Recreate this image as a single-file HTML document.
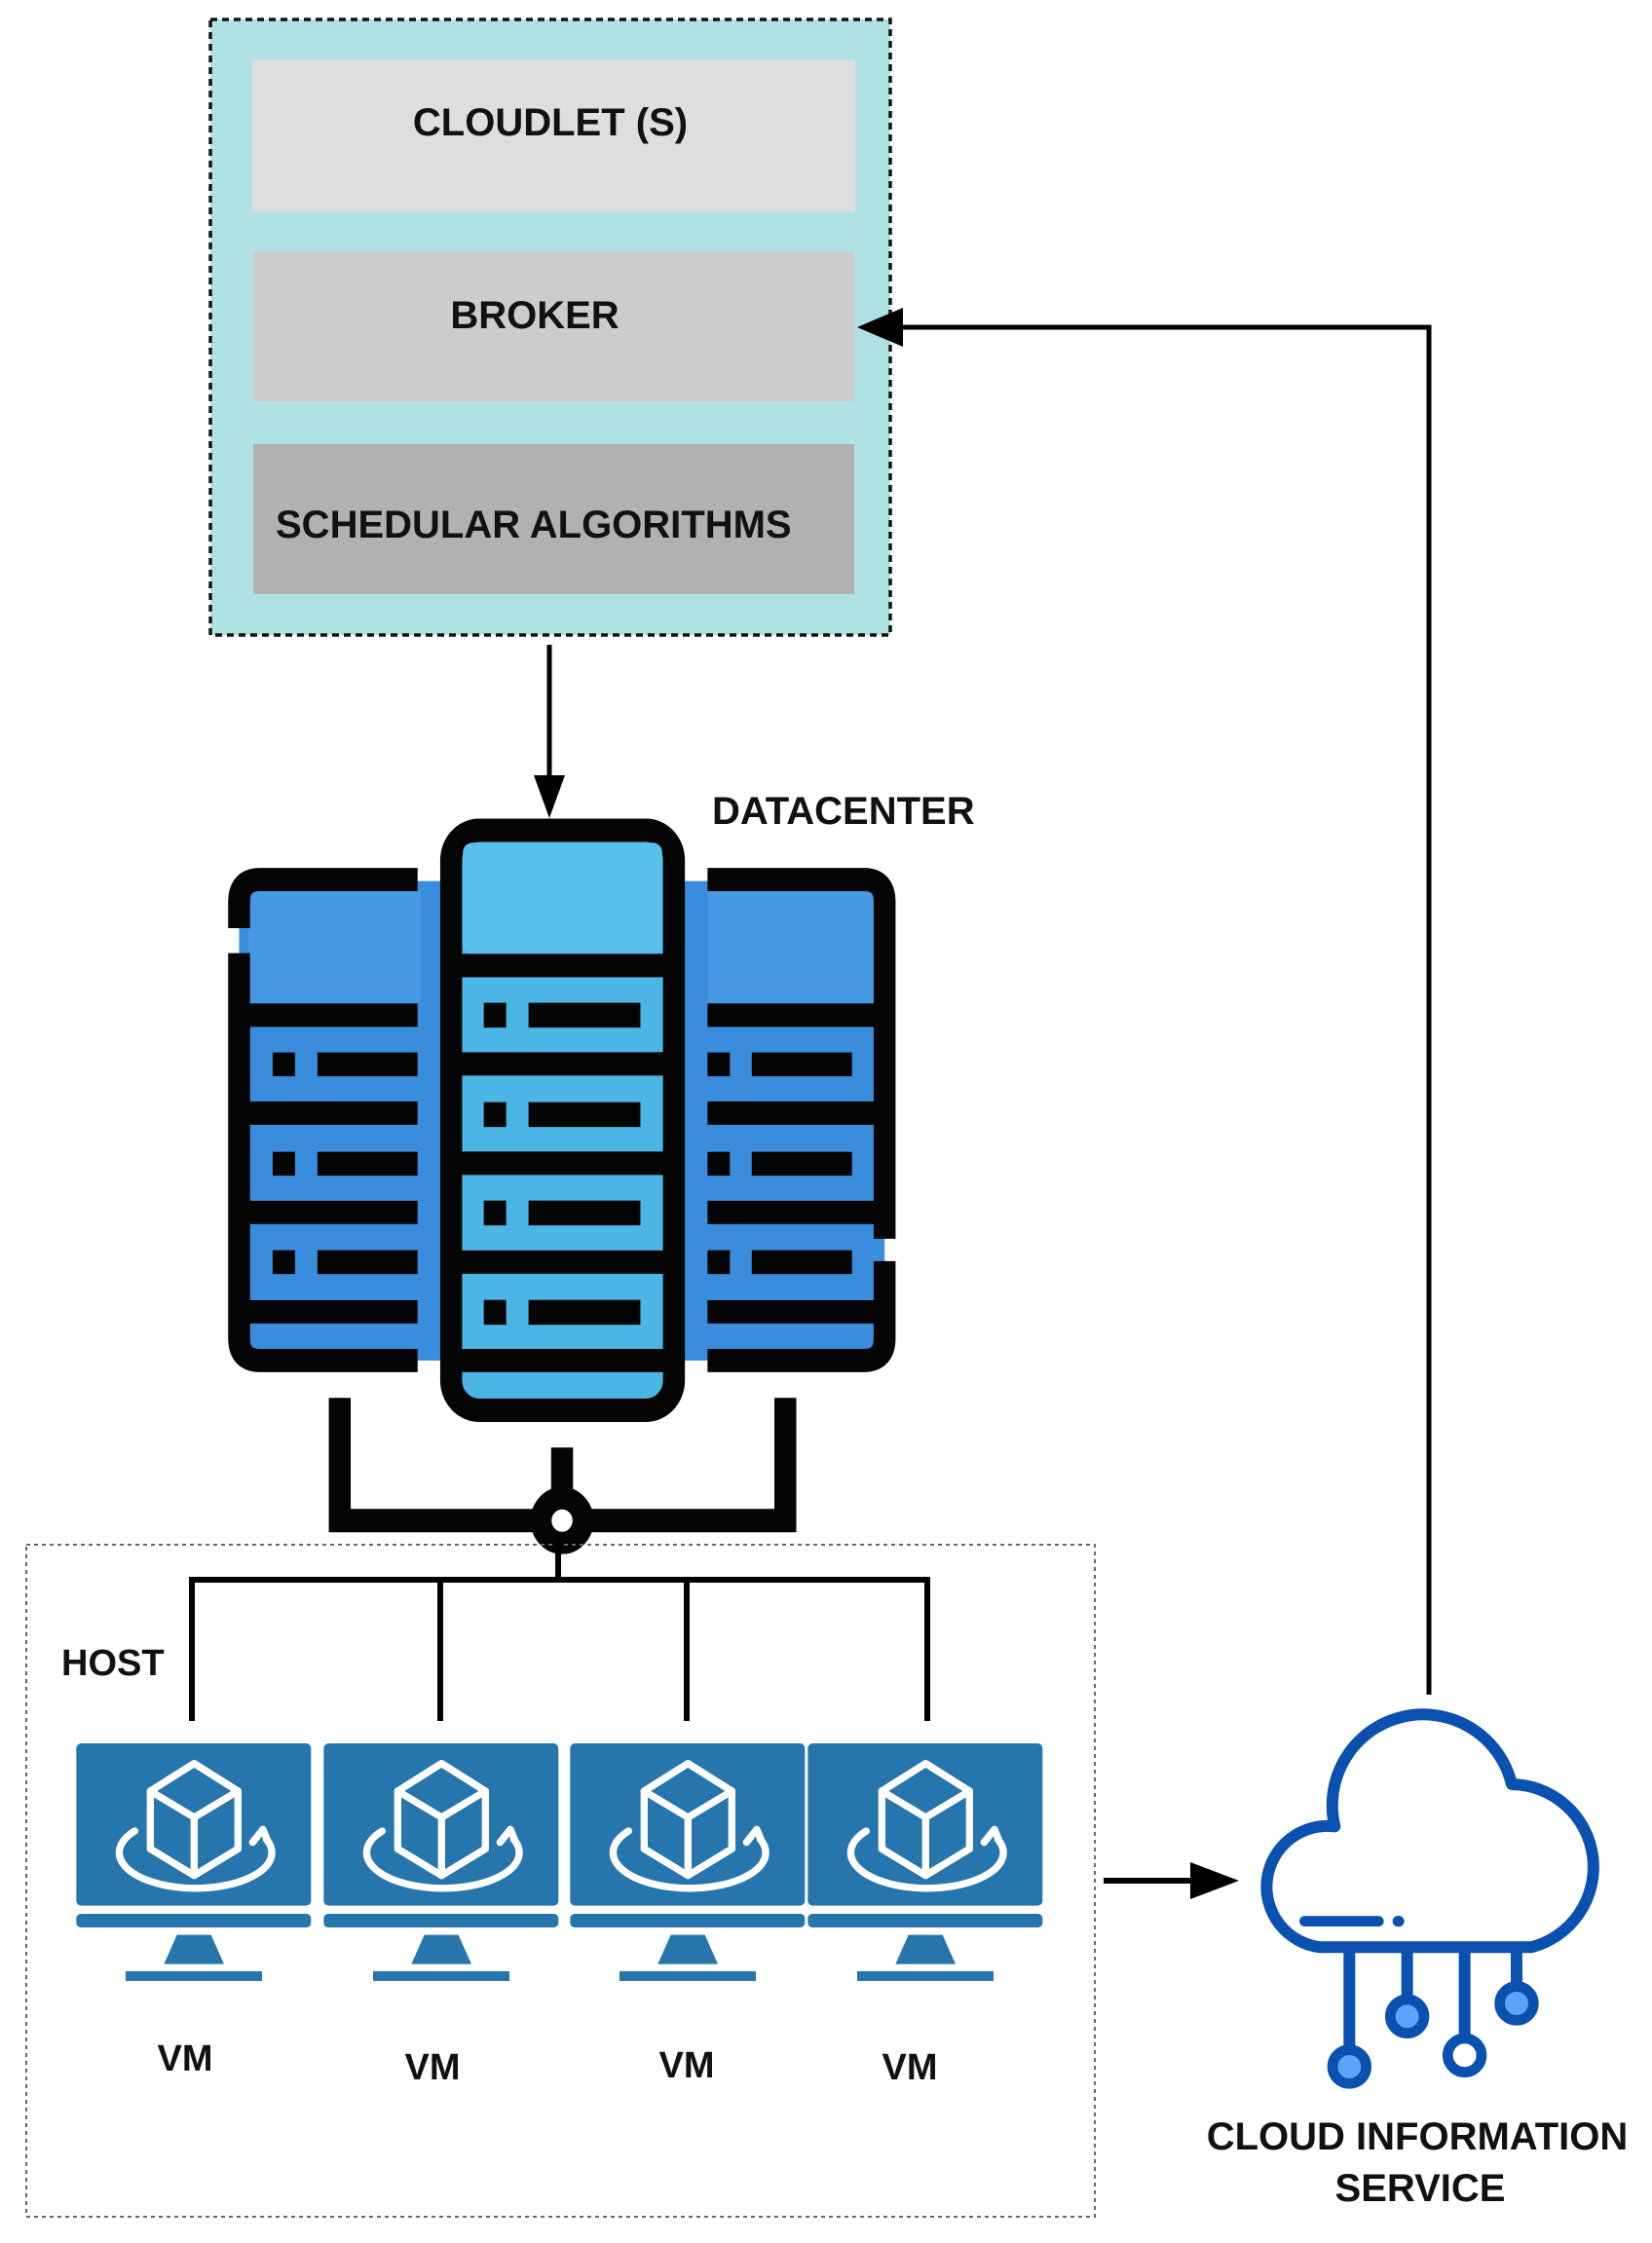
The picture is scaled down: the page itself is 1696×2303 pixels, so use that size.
<!DOCTYPE html>
<html><head><meta charset="utf-8"><style>
html,body{margin:0;padding:0;background:#fff;}
svg{display:block;}
text{font-family:"Liberation Sans",sans-serif;font-weight:bold;fill:#111;}
</style></head><body>
<svg width="1696" height="2303" viewBox="0 0 1696 2303" xmlns="http://www.w3.org/2000/svg">
<defs>
<g id="mon">
  <rect x="55" y="90" width="723" height="500" rx="15" fill="#2676ad"/>
  <rect x="55" y="615" width="723" height="42" rx="14" fill="#2676ad"/>
  <polygon points="365,680 470,680 510,770 325,770" fill="#2676ad"/>
  <rect x="207" y="792" width="420" height="30" fill="#2676ad"/>
  <g fill="none" stroke="#fff" stroke-width="22" stroke-linejoin="round" stroke-linecap="round">
    <polygon points="418,152 553,237 553,415 418,497 283,415 283,237"/>
    <polyline points="283,237 418,318 553,237"/>
    <line x1="418" y1="318" x2="418" y2="497"/>
    <path d="M235,360 A235,110 0 1 0 640,385"/>
    <polyline points="598,395 630,355 645,392"/>
  </g>
</g>
</defs>

<rect x="216" y="20" width="698" height="632" fill="#b0e2e3" stroke="#111" stroke-width="3.5" stroke-dasharray="7,5"/>
<rect x="259" y="61" width="619" height="156" fill="#dedede"/>
<rect x="260" y="258" width="617" height="154" fill="#cccccc"/>
<rect x="260" y="456" width="617" height="154" fill="#b1b1b1"/>
<text x="565" y="139" font-size="40" text-anchor="middle">CLOUDLET (S)</text>
<text x="549" y="337" font-size="40" text-anchor="middle">BROKER</text>
<text x="283" y="552" font-size="40">SCHEDULAR ALGORITHMS</text>

<polyline points="1467,1740 1467,336 910,336" fill="none" stroke="#000" stroke-width="5"/>
<polygon points="880,336 927,316 927,356" fill="#000"/>

<line x1="564" y1="662" x2="564" y2="800" stroke="#000" stroke-width="5"/>
<polygon points="564,840 548,796 580,796" fill="#000"/>

<text x="731" y="846" font-size="40">DATACENTER</text>

<g transform="translate(200,800) scale(0.4785,0.5102)">
  <rect x="95" y="205" width="1385" height="965" fill="#3a8ddc"/>
  <rect x="115" y="225" width="370" height="225" fill="#4599e3"/>
  <rect x="1100" y="225" width="360" height="225" fill="#4599e3"/>
  <g fill="none" stroke="#050505" stroke-width="47">
    <path d="M478,202 H140 Q95,202 95,247 V300 M95,350 V1125 Q95,1170 140,1170 H478"/>
    <path d="M1100,202 H1435 Q1480,202 1480,247 V925 M1480,970 V1125 Q1480,1170 1435,1170 H1100"/>
    <line x1="95" y1="475" x2="478" y2="475"/><line x1="95" y1="672" x2="478" y2="672"/>
    <line x1="95" y1="872" x2="478" y2="872"/><line x1="95" y1="1072" x2="478" y2="1072"/>
    <line x1="1100" y1="475" x2="1480" y2="475"/><line x1="1100" y1="672" x2="1480" y2="672"/>
    <line x1="1100" y1="872" x2="1480" y2="872"/><line x1="1100" y1="1072" x2="1480" y2="1072"/>
  </g>
  <g fill="#050505">
    <rect x="167" y="550" width="48" height="48"/><rect x="263" y="550" width="215" height="48"/>
    <rect x="167" y="750" width="48" height="48"/><rect x="263" y="750" width="215" height="48"/>
    <rect x="167" y="948" width="48" height="48"/><rect x="263" y="948" width="215" height="48"/>
    <rect x="1100" y="550" width="48" height="48"/><rect x="1195" y="550" width="215" height="48"/>
    <rect x="1100" y="750" width="48" height="48"/><rect x="1195" y="750" width="215" height="48"/>
    <rect x="1100" y="948" width="48" height="48"/><rect x="1195" y="948" width="215" height="48"/>
  </g>
  <rect x="550" y="103" width="478" height="1167" rx="60" fill="#4bb6e6" stroke="#050505" stroke-width="47"/>
  <rect x="575" y="128" width="428" height="224" rx="20" fill="#5cc0ed"/>
  <g stroke="#050505" stroke-width="47">
    <line x1="550" y1="375" x2="1028" y2="375"/><line x1="550" y1="573" x2="1028" y2="573"/>
    <line x1="550" y1="773" x2="1028" y2="773"/><line x1="550" y1="972" x2="1028" y2="972"/>
    <line x1="550" y1="1170" x2="1028" y2="1170"/>
  </g>
  <g fill="#050505">
    <rect x="620" y="450" width="48" height="50"/><rect x="716" y="450" width="240" height="50"/>
    <rect x="620" y="650" width="48" height="50"/><rect x="716" y="650" width="240" height="50"/>
    <rect x="620" y="848" width="48" height="50"/><rect x="716" y="848" width="240" height="50"/>
    <rect x="620" y="1048" width="48" height="50"/><rect x="716" y="1048" width="240" height="50"/>
  </g>
  <path d="M311,1245 V1492 H1267 V1245" fill="none" stroke="#050505" stroke-width="47"/>
  <line x1="788" y1="1345" x2="788" y2="1460" stroke="#050505" stroke-width="47"/>
  <circle cx="788" cy="1492" r="45" fill="#fff" stroke="#050505" stroke-width="45"/>
</g>

<rect x="27" y="1586" width="1097" height="690" fill="none" stroke="#666" stroke-width="2" stroke-dasharray="4,4"/>
<text x="63" y="1720" font-size="38">HOST</text>

<g stroke="#000" stroke-width="6" fill="none">
  <line x1="573" y1="1575" x2="573" y2="1622"/>
  <polyline points="197,1767 197,1622 952,1622 952,1767"/>
  <line x1="452" y1="1622" x2="452" y2="1767"/>
  <line x1="705" y1="1622" x2="705" y2="1767"/>
</g>

<use href="#mon" transform="translate(60,1760) scale(0.3333)"/>
<use href="#mon" transform="translate(314,1760) scale(0.3333)"/>
<use href="#mon" transform="translate(567,1760) scale(0.3333)"/>
<use href="#mon" transform="translate(811,1760) scale(0.3333)"/>

<text x="190" y="2126" font-size="38" text-anchor="middle">VM</text>
<text x="444" y="2135" font-size="38" text-anchor="middle">VM</text>
<text x="705" y="2133" font-size="38" text-anchor="middle">VM</text>
<text x="934" y="2135" font-size="38" text-anchor="middle">VM</text>

<line x1="1133" y1="1931" x2="1235" y2="1931" stroke="#000" stroke-width="6"/>
<polygon points="1272,1931 1222,1912 1222,1950" fill="#000"/>

<g transform="translate(1262,1752) scale(0.3333)">
  <g fill="none" stroke="#0a50ae" stroke-width="36" stroke-linecap="round">
    <path d="M280,742 A185,185 0 0 1 325,370 A280,280 0 0 1 870,240 A255,255 0 0 1 930,742 Z" stroke-linejoin="round"/>
    <line x1="232" y1="662" x2="460" y2="662" stroke-width="32"/>
    <line x1="520" y1="662" x2="522" y2="662" stroke-width="34"/>
    <line x1="370" y1="742" x2="370" y2="1060" stroke-linecap="butt"/>
    <line x1="548" y1="742" x2="548" y2="905" stroke-linecap="butt"/>
    <line x1="725" y1="742" x2="725" y2="1025" stroke-linecap="butt"/>
    <line x1="885" y1="742" x2="885" y2="865" stroke-linecap="butt"/>
  </g>
  <g stroke="#0a50ae" stroke-width="32">
    <circle cx="370" cy="1110" r="52" fill="#5ba4f7"/>
    <circle cx="548" cy="955" r="52" fill="#5ba4f7"/>
    <circle cx="725" cy="1075" r="52" fill="#fff"/>
    <circle cx="885" cy="915" r="52" fill="#5ba4f7"/>
  </g>
</g>

<text x="1455" y="2207" font-size="40" text-anchor="middle">CLOUD INFORMATION</text>
<text x="1458" y="2260" font-size="40" text-anchor="middle">SERVICE</text>
</svg>
</body></html>
